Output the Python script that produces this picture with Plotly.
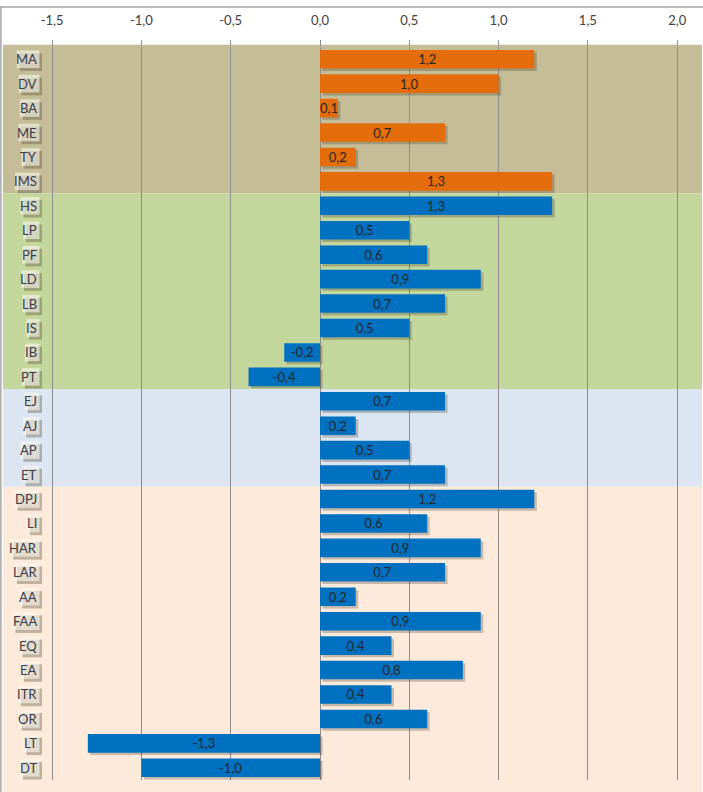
import plotly.graph_objects as go

categories = ["MA", "DV", "BA", "ME", "TY", "IMS",
              "HS", "LP", "PF", "LD", "LB", "IS", "IB", "PT",
              "EJ", "AJ", "AP", "ET",
              "DPJ", "LI", "HAR", "LAR", "AA", "FAA", "EQ", "EA", "ITR", "OR", "LT", "DT"]
values = [1.2, 1.0, 0.1, 0.7, 0.2, 1.3,
          1.3, 0.5, 0.6, 0.9, 0.7, 0.5, -0.2, -0.4,
          0.7, 0.2, 0.5, 0.7,
          1.2, 0.6, 0.9, 0.7, 0.2, 0.9, 0.4, 0.8, 0.4, 0.6, -1.3, -1.0]
group_sizes = [6, 8, 4, 12]
group_colors = ["#C4BD97", "#C3D69B", "#DCE6F2", "#FDEADA"]
bar_colors_by_group = ["#E46C0A", "#0070C0", "#0070C0", "#0070C0"]
tick_vals = [-1.5, -1.0, -0.5, 0.0, 0.5, 1.0, 1.5, 2.0]
tick_text = ["-1,5", "-1,0", "-0,5", "0,0", "0,5", "1,0", "1,5", "2,0"]

FONT = "Lato"
FS = 13
n = len(categories)
W, H = 703, 792
ML, MR, MT, MB = 3, 1, 47, 12
PW = W - ML - MR

# approximate Lato glyph advance widths (em) for label box sizing
CHAR_EM = {"A": 0.68, "B": 0.64, "D": 0.74, "E": 0.55, "F": 0.53, "H": 0.75, "I": 0.29,
           "J": 0.39, "L": 0.48, "M": 0.88, "O": 0.79, "P": 0.60, "Q": 0.79, "R": 0.62,
           "S": 0.53, "T": 0.57, "V": 0.68, "Y": 0.62}


def px_to_paper_x(px):
    return (px - ML) / PW


def text_px(s):
    return sum(CHAR_EM.get(ch, 0.6) for ch in s) * FS


bar_colors = []
for size, c in zip(group_sizes, bar_colors_by_group):
    bar_colors += [c] * size
labels = [f"{v:.1f}".replace(".", ",") for v in values]

fig = go.Figure()
# drop shadow behind bars
fig.add_trace(go.Bar(
    y=categories, x=values, base=0.014, orientation="h",
    width=0.76, offset=-0.38 + 0.1,
    marker=dict(color="rgba(60,55,40,0.28)", line=dict(width=0)),
    hoverinfo="skip", showlegend=False))
fig.add_trace(go.Bar(
    y=categories, x=values, orientation="h",
    width=0.76, offset=-0.38,
    marker=dict(color=bar_colors, line=dict(width=0)),
    text=labels, textposition="inside", insidetextanchor="middle", textangle=0,
    textfont=dict(family=FONT, size=FS, color="#262626"),
    showlegend=False))

# background bands
shapes = []
top = 1.0
for size, col in zip(group_sizes, group_colors):
    bottom = top - size / n
    y1 = top + (0.003 if top >= 1.0 else 0)
    y0 = bottom if bottom > 1e-9 else -0.02
    shapes.append(dict(type="rect", xref="paper", yref="paper", x0=0, x1=1,
                       y0=y0, y1=y1, fillcolor=col, line=dict(width=0), layer="below"))
    top = bottom
# chart border (top and left)
shapes.append(dict(type="line", xref="paper", yref="paper", x0=-0.01, x1=1.01,
                   y0=1.0546, y1=1.0546, line=dict(color="#a6a6a6", width=1.5)))
shapes.append(dict(type="line", xref="paper", yref="paper", x0=-0.003, x1=-0.003,
                   y0=-0.02, y1=1.0546, line=dict(color="#a6a6a6", width=1.5)))

TEXT_RIGHT = 38
annotations = []
for i, cat in enumerate(categories):
    tw = text_px(cat)
    bx0, bx1 = TEXT_RIGHT - tw - 1, TEXT_RIGHT + 1.5
    # shadow of label box
    shapes.append(dict(type="rect", xref="paper", yref="y",
                       x0=px_to_paper_x(bx0 + 3), x1=px_to_paper_x(bx1 + 2.5),
                       y0=i - 0.36 + 0.12, y1=i + 0.36 + 0.12,
                       fillcolor="rgba(70,60,40,0.33)", line=dict(width=0), layer="above"))
    # label box
    shapes.append(dict(type="rect", xref="paper", yref="y",
                       x0=px_to_paper_x(bx0), x1=px_to_paper_x(bx1),
                       y0=i - 0.36, y1=i + 0.36,
                       fillcolor="rgba(250,248,238,0.6)", line=dict(width=0), layer="above"))
    annotations.append(dict(xref="paper", yref="y", x=px_to_paper_x(TEXT_RIGHT), y=cat, text=cat,
                            showarrow=False, xanchor="right",
                            font=dict(family=FONT, size=FS, color="#3a3a4a"), borderpad=0))

fig.update_layout(
    width=W, height=H,
    margin=dict(l=ML, r=MR, t=MT, b=MB),
    paper_bgcolor="white", plot_bgcolor="rgba(0,0,0,0)",
    barmode="overlay",
    separators=", ",
    uniformtext=dict(minsize=FS, mode="show"),
    shapes=shapes, annotations=annotations,
    xaxis=dict(side="top", range=[-1.775, 2.139], tickvals=tick_vals, ticktext=tick_text,
               showgrid=True, gridcolor="#8c8c8c", gridwidth=1,
               zeroline=True, zerolinecolor="#8c8c8c", zerolinewidth=1,
               ticks="outside", ticklen=6, tickcolor="#8c8c8c", showline=False,
               ticklabelstandoff=10,
               tickfont=dict(family=FONT, size=FS, color="#404040")),
    yaxis=dict(type="category", categoryorder="array", categoryarray=categories,
               range=[n - 0.5, -0.5], showticklabels=False, showgrid=False,
               zeroline=False, showline=False),
    font=dict(family=FONT),
)

fig.write_html("out.html", config={"displayModeBar": False},
               post_script="document.body.style.margin='0';document.body.style.overflow='hidden';")
